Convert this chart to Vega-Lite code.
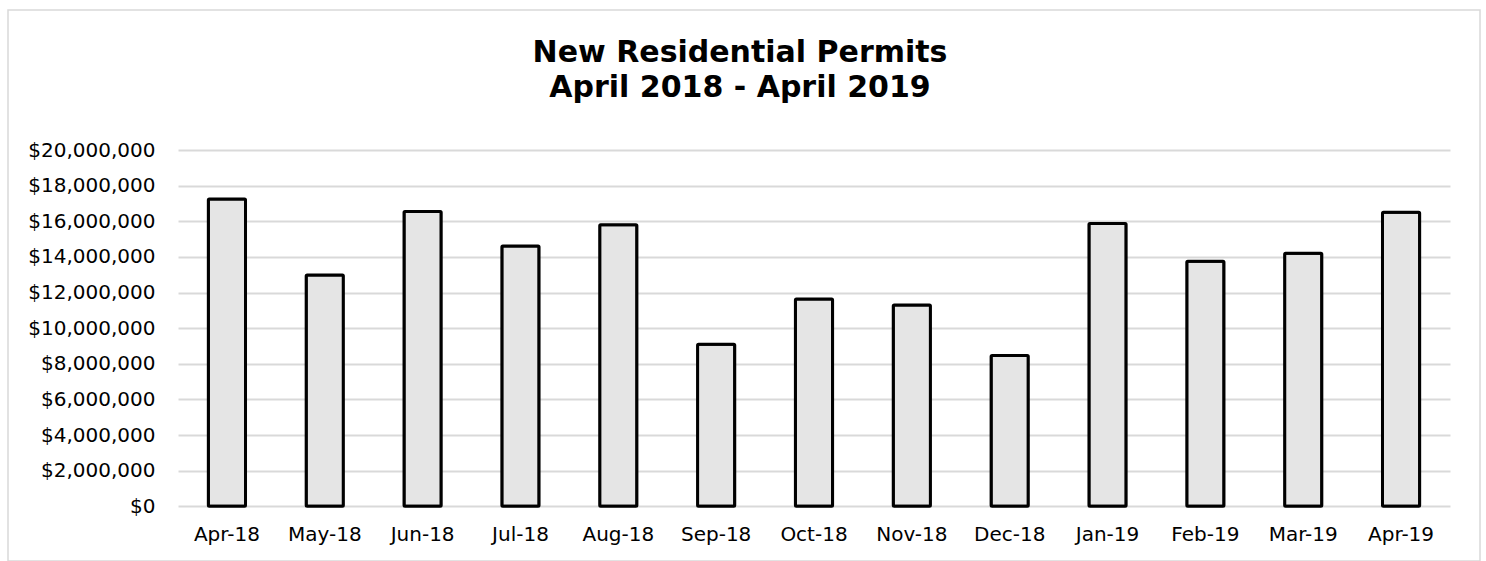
{
  "$schema": "https://vega.github.io/schema/vega-lite/v6.json",
  "autosize": "none",
  "padding": {"left": 8, "top": 10, "right": 6, "bottom": 0},
  "width": 1472,
  "height": 551,
  "background": "white",
  "config": {
    "view": {"stroke": "#d9d9d9", "strokeWidth": 1.5},
    "font": "DejaVu Sans"
  },
  "title": {
    "text": ["New Residential Permits", "April 2018 - April 2019"],
    "fontSize": 30,
    "fontWeight": "bold",
    "color": "#000000",
    "anchor": "middle",
    "frame": "group",
    "lineHeight": 35,
    "offset": -93,
    "dx": -4
  },
  "data": {
    "values": [
      {"month": "Apr-18", "value": 17250000},
      {"month": "May-18", "value": 12980000},
      {"month": "Jun-18", "value": 16550000},
      {"month": "Jul-18", "value": 14610000},
      {"month": "Aug-18", "value": 15800000},
      {"month": "Sep-18", "value": 9090000},
      {"month": "Oct-18", "value": 11630000},
      {"month": "Nov-18", "value": 11300000},
      {"month": "Dec-18", "value": 8470000},
      {"month": "Jan-19", "value": 15880000},
      {"month": "Feb-19", "value": 13750000},
      {"month": "Mar-19", "value": 14210000},
      {"month": "Apr-19", "value": 16500000}
    ]
  },
  "mark": {"type": "bar", "fill": "#e5e5e5", "stroke": "#000000", "strokeWidth": 3, "cornerRadius": 1, "strokeJoin": "round"},
  "encoding": {
    "x": {
      "field": "month",
      "type": "ordinal",
      "sort": null,
      "scale": {"range": [170, 1442], "paddingInner": 0.62, "paddingOuter": 0.31},
      "axis": {
        "title": null,
        "orient": "bottom",
        "offset": -54.7,
        "domain": false,
        "ticks": false,
        "tickSize": 0,
        "labelAngle": 0,
        "labelPadding": 18,
        "labelFontSize": 20,
        "labelColor": "#000000",
        "grid": false
      }
    },
    "y": {
      "field": "value",
      "type": "quantitative",
      "scale": {"domain": [0, 20000000], "range": [496.3, 140], "nice": false, "zero": true},
      "axis": {
        "title": null,
        "orient": "left",
        "offset": -170,
        "values": [0, 2000000, 4000000, 6000000, 8000000, 10000000, 12000000, 14000000, 16000000, 18000000, 20000000],
        "format": "$,.0f",
        "domain": false,
        "ticks": false,
        "tickSize": 0,
        "labelPadding": 23,
        "labelFontSize": 20,
        "labelColor": "#000000",
        "grid": true,
        "gridColor": "#d9d9d9",
        "gridWidth": 2
      }
    }
  }
}
